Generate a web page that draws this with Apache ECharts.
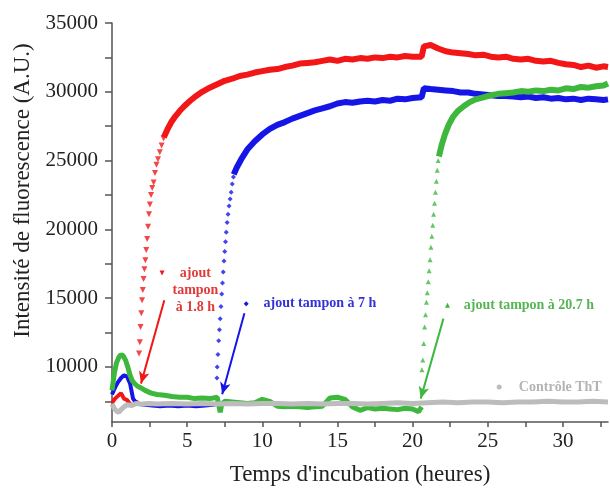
<!DOCTYPE html>
<html><head><meta charset="utf-8">
<script src="https://cdn.jsdelivr.net/npm/echarts@6/dist/echarts.min.js"></script>
<style>html,body{margin:0;padding:0;background:#fff}#c{width:610px;height:491px}</style>
</head><body><div id="c"></div>
<script>
// ---- data (hours, fluorescence A.U.) ----
const redBaseT = [0, 0.2, 0.4, 0.6, 0.8, 1.0, 1.2, 1.4, 1.6, 1.78];
const redBaseV = [7400, 7700, 7900, 8100, 7700, 7600, 7300, 7200, 7500, 7300];
const redRiseT = [1.8, 1.85, 1.9, 1.95, 2.0, 2.05, 2.1, 2.16, 2.22, 2.28, 2.34, 2.4, 2.46, 2.52, 2.6, 2.68, 2.77, 2.86, 2.96, 3.06, 3.18, 3.3, 3.43];
const redRiseV = [10970, 11800, 12900, 13900, 14850, 15600, 16400, 17100, 17750, 18500, 19300, 20200, 21100, 21800, 22500, 23000, 23400, 24100, 24700, 25100, 25600, 26100, 26600];
const redT = [3.45, 3.7, 3.95, 4.2, 4.5, 4.8, 5.2, 5.6, 6.0, 6.5, 7.0, 7.5, 8.0, 8.5, 9.0, 9.5, 10.0, 10.5, 11.0, 11.5, 12.0, 12.5, 13.0, 13.5, 14.0, 14.5, 15.0, 15.5, 16.0, 16.5, 17.0, 17.5, 18.0, 18.5, 19.0, 19.5, 20.0, 20.6, 20.75, 21.2, 21.7, 22.2, 22.7, 23.2, 23.7, 24.2, 24.7, 25.2, 25.7, 26.2, 26.7, 27.2, 27.7, 28.2, 28.7, 29.2, 29.7, 30.2, 30.7, 31.2, 31.7, 32.2, 32.7, 33];
const redV = [26700, 27300, 27800, 28200, 28600, 28950, 29350, 29700, 30000, 30300, 30550, 30800, 30950, 31150, 31250, 31400, 31500, 31600, 31650, 31800, 31900, 32050, 32100, 32150, 32250, 32350, 32250, 32400, 32350, 32450, 32400, 32500, 32450, 32550, 32500, 32600, 32550, 32550, 33300, 33400, 33150, 32950, 32850, 32800, 32750, 32650, 32700, 32550, 32500, 32550, 32400, 32350, 32400, 32250, 32200, 32250, 32100, 32000, 31950, 31800, 31900, 31750, 31850, 31800];

const blueBaseT = [0, 0.2, 0.4, 0.6, 0.8, 1.0, 1.2, 1.4, 1.6, 1.8, 2.2, 2.7, 3.2, 3.8, 4.4, 5.0, 5.6, 6.2, 6.7, 6.95];
const blueBaseV = [8000, 8500, 8900, 9200, 9400, 9300, 8800, 7700, 7400, 7300, 7250, 7200, 7150, 7200, 7150, 7200, 7150, 7200, 7250, 7300];
const blueRiseT = [6.98, 7.0, 7.05, 7.1, 7.15, 7.2, 7.25, 7.3, 7.35, 7.4, 7.45, 7.5, 7.55, 7.6, 7.66, 7.72, 7.79, 7.86, 7.93, 8.0, 8.08];
const blueRiseV = [9200, 10000, 10900, 11900, 12700, 13500, 14400, 15300, 16100, 16900, 17700, 18400, 19100, 19800, 20500, 21100, 21700, 22200, 22700, 23300, 23800];
const blueT = [8.1, 8.3, 8.6, 9.0, 9.5, 10.0, 10.5, 11.0, 11.5, 12.0, 12.5, 13.0, 13.5, 14.0, 14.5, 15.0, 15.5, 16.0, 16.5, 17.0, 17.5, 18.0, 18.5, 19.0, 19.5, 20.0, 20.6, 20.75, 21.2, 21.7, 22.2, 22.7, 23.2, 23.7, 24.2, 24.7, 25.2, 25.7, 26.2, 26.7, 27.2, 27.7, 28.2, 28.7, 29.2, 29.7, 30.2, 30.7, 31.2, 31.7, 32.2, 32.7, 33];
const blueV = [24000, 24500, 25100, 25800, 26400, 26900, 27300, 27600, 27800, 28050, 28250, 28450, 28650, 28800, 28950, 29150, 29250, 29200, 29300, 29350, 29300, 29400, 29350, 29500, 29450, 29550, 29600, 30250, 30200, 30150, 30100, 30050, 29950, 29950, 29850, 29800, 29750, 29700, 29700, 29650, 29600, 29650, 29550, 29600, 29500, 29550, 29450, 29500, 29400, 29500, 29450, 29400, 29450];

const greenBaseT = [0, 0.15, 0.3, 0.45, 0.6, 0.75, 0.9, 1.05, 1.2, 1.35, 1.5, 1.7, 1.9, 2.2, 2.6, 3.0, 3.5, 4.0, 4.5, 5.0, 5.5, 6.0, 6.5, 7.0, 7.2, 7.3, 7.5, 8.0, 8.5, 9.0, 9.5, 10.0, 10.5, 11.0, 11.5, 12.0, 12.5, 13.0, 13.5, 14.0, 14.5, 15.0, 15.5, 16.0, 16.5, 17.0, 17.5, 18.0, 18.5, 19.0, 19.5, 20.0, 20.4, 20.6];
const greenBaseV = [8300, 9500, 10300, 10700, 10900, 10800, 10500, 10000, 9400, 9000, 8800, 8600, 8500, 8300, 8100, 8000, 7950, 7850, 7800, 7800, 7700, 7750, 7700, 7800, 6700, 7300, 7500, 7450, 7400, 7350, 7400, 7650, 7500, 7150, 7100, 7150, 7100, 7050, 7100, 7150, 7750, 7800, 7650, 7100, 6850, 7050, 6950, 7000, 6950, 6900, 7000, 6950, 6750, 7100];
const greenRiseT = [20.62, 20.68, 20.74, 20.8, 20.86, 20.92, 20.98, 21.04, 21.1, 21.16, 21.22, 21.28, 21.34, 21.4, 21.46, 21.52, 21.58, 21.64, 21.7];
const greenRiseV = [9800, 10500, 11700, 12900, 13800, 14700, 15400, 16200, 17000, 17800, 18700, 19500, 20300, 21100, 21900, 22700, 23500, 24300, 25000];
const greenT = [21.75, 21.95, 22.15, 22.4, 22.7, 23.0, 23.4, 23.8, 24.2, 24.7, 25.2, 25.7, 26.2, 26.7, 27.2, 27.7, 28.2, 28.7, 29.2, 29.7, 30.2, 30.7, 31.2, 31.7, 32.2, 32.7, 33];
const greenV = [25300, 26200, 26900, 27600, 28200, 28600, 28950, 29250, 29450, 29600, 29750, 29850, 29900, 29950, 30050, 30000, 30100, 30050, 30150, 30100, 30250, 30200, 30350, 30300, 30400, 30450, 30600];

const grayT = [0, 0.15, 0.3, 0.45, 0.6, 0.8, 1.0, 1.3, 1.6, 2.0, 2.5, 3, 4, 5, 6, 7, 8, 9, 10, 11, 12, 13, 14, 15, 16, 17, 18, 19, 20, 21, 22, 23, 24, 25, 26, 27, 28, 29, 30, 31, 32, 33];
const grayV = [7300, 7000, 6800, 6700, 6900, 7100, 7250, 7200, 7350, 7300, 7350, 7300, 7350, 7300, 7350, 7300, 7350, 7300, 7350, 7350, 7300, 7350, 7300, 7350, 7350, 7300, 7350, 7400, 7350, 7400, 7450, 7400, 7450, 7450, 7400, 7450, 7450, 7500, 7450, 7450, 7500, 7450];

const xTicks = [0, 2.5, 5, 7.5, 10, 12.5, 15, 17.5, 20, 22.5, 25, 27.5, 30, 32.5];
const xLabels = [0, 5, 10, 15, 20, 25, 30];
const yTicks = [7500, 10000, 12500, 15000, 17500, 20000, 22500, 25000, 27500, 30000, 32500, 35000];
const yLabels = [10000, 15000, 20000, 25000, 30000, 35000];

const labels = {
  red: 'ajout\ntampon\nà 1.8 h',
  blue: 'ajout tampon à 7 h',
  green: 'ajout tampon à 20.7 h',
  gray: 'Contrôle ThT'
};
// ---- end data ----

const C = {red:'#f21616', blue:'#1515e8', green:'#3db83d', gray:'#bcbcbc'};
const TC = {red:'#e23a3a', blue:'#3232d6', green:'#55b555', gray:'#b4b4b4'};
const serif = 'Liberation Serif, Times New Roman, serif';
const zip = (t, v) => t.map((x, i) => [x, v[i]]);

function lineS(t, v, color, w) {
  return {type:'line', data:zip(t, v), showSymbol:false, silent:true,
    lineStyle:{color, width:w, join:'bevel'}, itemStyle:{color}, animation:false};
}
function riseS(t, v, color, symbol, rot, size, ann) {
  const s = {type:'scatter', data:zip(t, v), symbol, symbolRotate:rot, symbolSize:size,
    itemStyle:{color}, silent:true, animation:false};
  if (ann) Object.assign(s, ann);
  return s;
}
function annot(key, marker, symbol, rot, textAt, align, from, to) {
  const lbl = {show:true, position:'inside', formatter:labels[key], color:TC[key],
    fontFamily:serif, fontWeight:'bold', fontSize:14, lineHeight:17, align};
  const mp = [
    {coord:marker, symbol, symbolRotate:rot, symbolSize:5, itemStyle:{color:C[key]}, label:{show:false}},
    {coord:textAt, symbol:'circle', symbolSize:1, itemStyle:{color:'rgba(0,0,0,0)'}, label:lbl}
  ];
  const res = {markPoint:{silent:true, animation:false, data:mp}};
  if (from) res.markLine = {silent:true, animation:false, symbol:['none','arrow'], symbolSize:[8,12],
    lineStyle:{color:C[key], width:2, type:'solid'}, label:{show:false},
    data:[[{coord:from},{coord:to}]]};
  return res;
}

const chart = echarts.init(document.getElementById('c'), null, {renderer:'canvas'});
chart.setOption({
  animation:false,
  grid:{left:112, top:23, width:496, height:399, outerBoundsMode:'none', containLabel:false},
  xAxis:{type:'value', min:0, max:33,
    name:"Temps d'incubation (heures)", nameLocation:'middle', nameGap:41,
    nameTextStyle:{fontFamily:serif, fontSize:23, color:'#222'},
    axisLine:{show:true, onZero:false, lineStyle:{color:'#555', width:1.5}},
    axisTick:{show:true, inside:false, length:5, customValues:xTicks, lineStyle:{color:'#555', width:1.5}},
    axisLabel:{customValues:xLabels, formatter:v => String(v), fontFamily:serif, fontSize:21, color:'#222', margin:9},
    splitLine:{show:false}},
  yAxis:{type:'value', min:6000, max:35000,
    name:'Intensité de fluorescence (A.U.)', nameLocation:'middle', nameGap:72,
    nameTextStyle:{fontFamily:serif, fontSize:23, color:'#222', padding:[0,0,0,64]},
    axisLine:{show:true, onZero:false, lineStyle:{color:'#555', width:1.5}},
    axisTick:{show:true, inside:false, length:7, customValues:yTicks, lineStyle:{color:'#555', width:1.5}},
    axisLabel:{customValues:yLabels, formatter:v => String(v), fontFamily:serif, fontSize:21, color:'#222', margin:14},
    splitLine:{show:false}},
  series:[
    lineS(redBaseT, redBaseV, C.red, 4),
    riseS(redRiseT, redRiseV, C.red, 'triangle', 180, 6,
      annot('red', [3.33, 16830], 'triangle', 180, [5.55, 15570], 'center', [3.48, 14850], [1.93, 8790])),
    lineS(redT, redV, C.red, 6),
    lineS(blueBaseT, blueBaseV, C.blue, 4),
    riseS(blueRiseT, blueRiseV, C.blue, 'diamond', 0, 5,
      annot('blue', [8.93, 14600], 'diamond', 0, [10.08, 14600], 'left', [8.81, 13900], [7.33, 8010])),
    lineS(blueT, blueV, C.blue, 6),
    lineS(greenBaseT, greenBaseV, C.green, 5),
    riseS(greenRiseT, greenRiseV, C.green, 'triangle', 0, 5,
      annot('green', [22.32, 14480], 'triangle', 0, [23.41, 14480], 'left', [22.05, 13515], [20.54, 7700])),
    lineS(greenT, greenV, C.green, 6),
    Object.assign(lineS(grayT, grayV, C.gray, 5),
      annot('gray', [25.76, 8544], 'circle', 0, [27.07, 8544], 'left', null, null))
  ]
});
</script>
</body></html>
